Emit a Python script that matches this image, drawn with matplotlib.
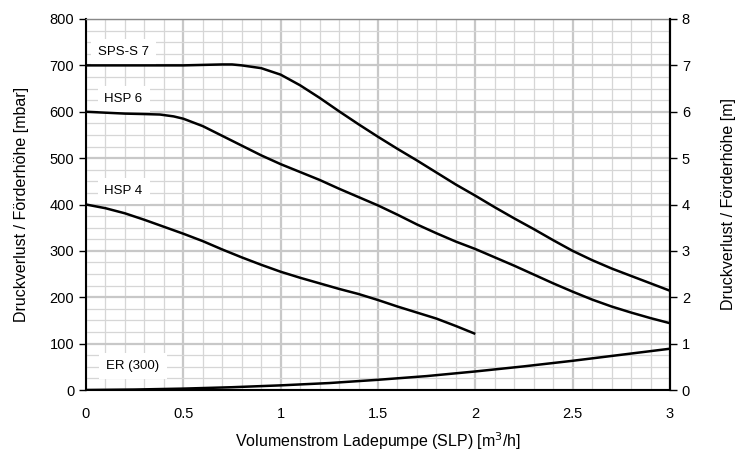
import matplotlib
matplotlib.use("Agg")
import matplotlib.pyplot as plt
from matplotlib.ticker import MultipleLocator

plt.rcParams['font.family'] = ['Liberation Sans', 'DejaVu Sans']

# Data
sps_x = [0.0, 0.3, 0.5, 0.6, 0.7, 0.75, 0.8, 0.9, 1.0, 1.1, 1.2, 1.3, 1.4, 1.5, 1.6, 1.7, 1.8, 1.9,
         2.0, 2.1, 2.2, 2.3, 2.4, 2.5, 2.6, 2.7, 2.8, 2.9, 3.0]
sps_y = [700, 700, 700, 701, 702, 702, 700, 694, 680, 657, 630, 601, 573, 546, 520, 495, 469, 443,
         419, 394, 370, 347, 323, 300, 280, 262, 246, 230, 214]

hsp6_x = [0.0, 0.1, 0.2, 0.3, 0.38, 0.45, 0.5, 0.6, 0.7, 0.8, 0.9, 1.0, 1.1, 1.2, 1.3, 1.4, 1.5, 1.6, 1.7,
          1.8, 1.9, 2.0, 2.1, 2.2, 2.3, 2.4, 2.5, 2.6, 2.7, 2.8, 2.9, 3.0]
hsp6_y = [600, 598, 596, 595, 594, 590, 585, 569, 548, 527, 506, 487, 470, 453, 434, 416, 398, 378, 357,
          338, 320, 304, 286, 268, 249, 230, 212, 195, 180, 167, 155, 144]

hsp4_x = [0.0, 0.1, 0.2, 0.3, 0.4, 0.5, 0.6, 0.7, 0.8, 0.9, 1.0, 1.1, 1.2, 1.3, 1.4, 1.5, 1.6, 1.7, 1.8, 1.9, 2.0]
hsp4_y = [400, 392, 381, 367, 352, 337, 321, 303, 286, 270, 255, 242, 230, 218, 207, 194, 180, 167, 154, 138, 121]

er_x = [0.0, 0.25, 0.5, 0.75, 1.0, 1.25, 1.5, 1.75, 2.0, 2.25, 2.5, 2.75, 3.0]
er_y = [0, 1, 3, 6, 10, 15, 22, 30, 40, 51, 63, 76, 89]

labels = ["SPS-S 7", "HSP 6", "HSP 4", "ER (300)"]
label_x = [0.06, 0.095, 0.095, 0.105]
label_y = [729, 627, 429, 52]

x_ticks = [0, 0.5, 1, 1.5, 2, 2.5, 3]
x_ticklabels = ['0', '0.5', '1', '1.5', '2', '2.5', '3']

fig = plt.figure(figsize=(7.5, 4.55), dpi=100)
ax = fig.add_axes([86/750, 1-390/455, (670-86)/750, (390-19)/455])

ax.set_xlim(0, 3)
ax.set_ylim(0, 800)
ax.set_xticks(x_ticks)
ax.set_xticklabels(x_ticklabels)
ax.xaxis.set_minor_locator(MultipleLocator(0.1))
ax.yaxis.set_major_locator(MultipleLocator(100))
ax.yaxis.set_minor_locator(MultipleLocator(25))
ax.grid(which='major', color='#c8c8c8', linewidth=1.6, zorder=0)
ax.grid(which='minor', color='#d6d6d6', linewidth=0.9, zorder=0)
ax.set_axisbelow(True)

for xs, ys in [(sps_x, sps_y), (hsp6_x, hsp6_y), (hsp4_x, hsp4_y), (er_x, er_y)]:
    ax.plot(xs, ys, color='black', linewidth=1.8, zorder=3, solid_capstyle='butt',
            solid_joinstyle='round')

for t, lx, ly in zip(labels, label_x, label_y):
    ax.text(lx, ly, t, fontsize=9.5, va='center', ha='left', zorder=2,
            bbox=dict(facecolor='white', edgecolor='none', pad=5))

ax.tick_params(axis='x', which='both', length=0, labelsize=10.5, pad=12)
ax.tick_params(axis='y', which='major', length=5, width=1, labelsize=10.5, direction='out')
ax.tick_params(axis='y', which='minor', length=0)

for s in ['left', 'right', 'bottom']:
    ax.spines[s].set_color('black')
    ax.spines[s].set_linewidth(1.5)
ax.spines['top'].set_color('#888888')
ax.spines['top'].set_linewidth(1.0)

ax.set_xlabel('Volumenstrom Ladepumpe (SLP) [m$^3$/h]', fontsize=11.5, labelpad=7)
ax.set_ylabel('Druckverlust / Förderhöhe [mbar]', fontsize=11.5, labelpad=15)

ax2 = ax.twinx()
ax2.set_ylim(0, 8)
ax2.yaxis.set_major_locator(MultipleLocator(1))
ax2.tick_params(axis='y', length=5, width=1, labelsize=10.5)
ax2.set_ylabel('Druckverlust / Förderhöhe [m]', fontsize=11.5, labelpad=22)
for s in ['left', 'right', 'bottom', 'top']:
    ax2.spines[s].set_visible(False)
ax2.spines['right'].set_visible(True)
ax2.spines['right'].set_color('black')
ax2.spines['right'].set_linewidth(1.5)

fig.savefig('out.png', dpi=100)
